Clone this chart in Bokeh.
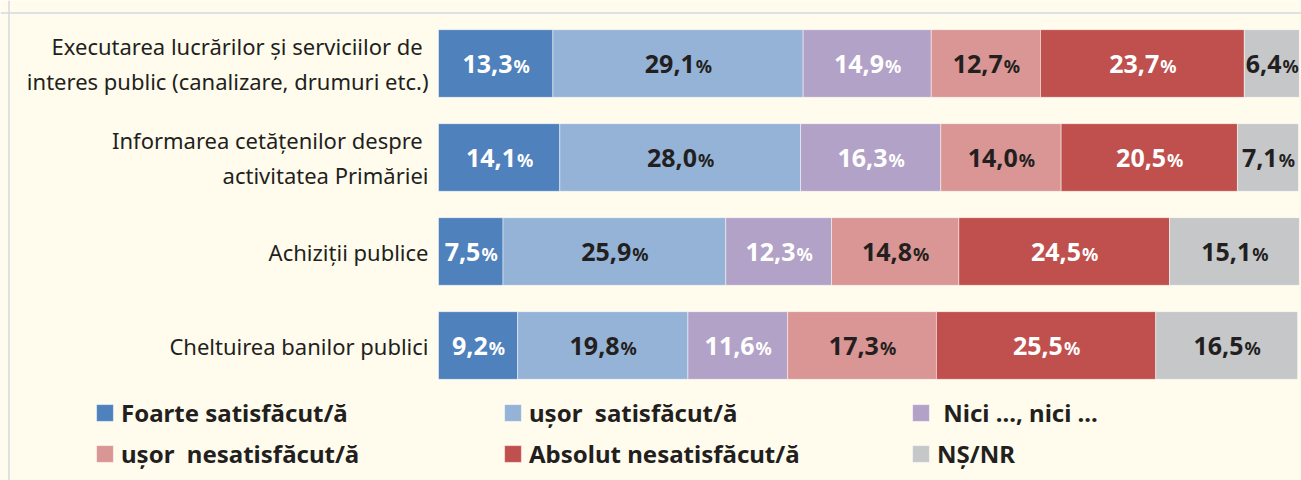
from bokeh.plotting import figure
from bokeh.models import Range1d, ColumnDataSource, Legend, LegendItem, Span
from bokeh.core.properties import value
from bokeh.embed import file_html
from bokeh.resources import INLINE

# ---------------- data ----------------
categories = [
    "Executarea lucrărilor și serviciilor de \ninteres public (canalizare, drumuri etc.)",
    "Informarea cetățenilor despre \nactivitatea Primăriei",
    "Achiziții publice",
    "Cheltuirea banilor publici",
]
series_names = [
    "Foarte satisfăcut/ă",
    "ușor  satisfăcut/ă",
    " Nici ..., nici ...",
    "ușor  nesatisfăcut/ă",
    "Absolut nesatisfăcut/ă",
    "NȘ/NR",
]
foarte = [13.3, 14.1, 7.5, 9.2]
usor_sat = [29.1, 28.0, 25.9, 19.8]
nici = [14.9, 16.3, 12.3, 11.6]
usor_nesat = [12.7, 14.0, 14.8, 17.3]
absolut = [23.7, 20.5, 24.5, 25.5]
ns_nr = [6.4, 7.1, 15.1, 16.5]

# ---------------- styles ----------------
BG = "#FFFCEE"
INK = "#231F20"
colors = ["#4F81BD", "#95B3D7", "#B3A2C7", "#D99694", "#C0504D", "#C6C7C9"]
label_colors = ["white", INK, "white", INK, "white", INK]
FONT = "Noto Sans"

W, H = 1301, 480
BAR_LEFT_PX = 438.0   # where 0% sits
PX_PER_PCT = 8.6
ROW_PITCH = 94.0
FIRST_ROW_PX = 63.0   # centre of top row from top

series = [foarte, usor_sat, nici, usor_nesat, absolut, ns_nr]
keys = ["s%d" % i for i in range(len(series))]
n = len(categories)
ypos = [n - 1 - i for i in range(n)]

data = {"y": ypos}
for k, s in zip(keys, series):
    data[k] = s
src = ColumnDataSource(data)

x0 = -BAR_LEFT_PX / PX_PER_PCT
x1 = (W - BAR_LEFT_PX) / PX_PER_PCT
ytop = (n - 1) + FIRST_ROW_PX / ROW_PITCH
ybot = ytop - H / ROW_PITCH

p = figure(
    width=W, height=H,
    x_range=Range1d(x0, x1), y_range=Range1d(ybot, ytop),
    output_backend="svg", toolbar_location=None,
    min_border=0,
    background_fill_color=BG, border_fill_color=BG,
)
p.outline_line_color = None
p.grid.visible = False
p.axis.visible = False

# faint chart-box border (left and top)
p.add_layout(Span(location=x0 + 8.5 / PX_PER_PCT, dimension="height",
                  line_color="#D5D8E2", line_width=1.5))
p.add_layout(Span(location=ytop - 12.5 / ROW_PITCH, dimension="width",
                  line_color="#D5D8E2", line_width=1.5))

rs = p.hbar_stack(keys, y="y", height=0.72, color=colors, source=src,
                  line_color="white", line_width=0.8, line_alpha=0.6)

# category labels (tick labels) to the left of the bars
cat_src = ColumnDataSource(dict(x=[0] * n, y=ypos, t=categories))
p.text(x="x", y="y", text="t", source=cat_src, x_offset=-10,
       text_align="right", text_baseline="middle",
       text_font=value(FONT), text_font_size="22px", text_color=INK,
       text_line_height=1.18)

# value labels: number (bold, large) + "%" (bold, smaller)
DIG, COMMA, PCT_W = 0.572, 0.27, 16.0
NUM_SIZE = 25
for si, s in enumerate(series):
    cx, ys, nums, xo_num, xo_pct = [], [], [], [], []
    for ri in range(n):
        left = sum(series[j][ri] for j in range(si))
        v = s[ri]
        txt = ("%.1f" % v).replace(".", ",")
        wn = sum(COMMA if ch == "," else DIG for ch in txt) * NUM_SIZE
        off = (wn - PCT_W) / 2.0
        cx.append(left + v / 2.0)
        ys.append(ypos[ri])
        nums.append(txt)
        xo_num.append(off)
        xo_pct.append(off + 1)
    ls = ColumnDataSource(dict(x=cx, y=ys, t=nums, pt=["%"] * n, xn=xo_num, xp=xo_pct))
    p.text(x="x", y="y", text="t", x_offset="xn", y_offset=0, source=ls,
           text_align="right", text_baseline="middle",
           text_font=value(FONT), text_font_style="bold",
           text_font_size="%dpx" % NUM_SIZE, text_color=label_colors[si])
    p.text(x="x", y="y", text="pt", x_offset="xp", y_offset=2, source=ls,
           text_align="left", text_baseline="middle",
           text_font=value(FONT), text_font_style="bold",
           text_font_size="18px", text_color=label_colors[si])

legend = Legend(
    items=[LegendItem(label=nm, renderers=[r]) for nm, r in zip(series_names, rs)],
    location=(94, 10), orientation="horizontal", ncols=3,
    glyph_width=21, glyph_height=21, label_standoff=6,
    label_width=373, label_height=30, spacing=8, padding=0, margin=0,
    border_line_color=None, background_fill_alpha=0,
    label_text_font=FONT, label_text_font_style="bold",
    label_text_font_size="24px", label_text_color=INK,
)
p.add_layout(legend)

open("out.html", "w").write(file_html(p, INLINE))
